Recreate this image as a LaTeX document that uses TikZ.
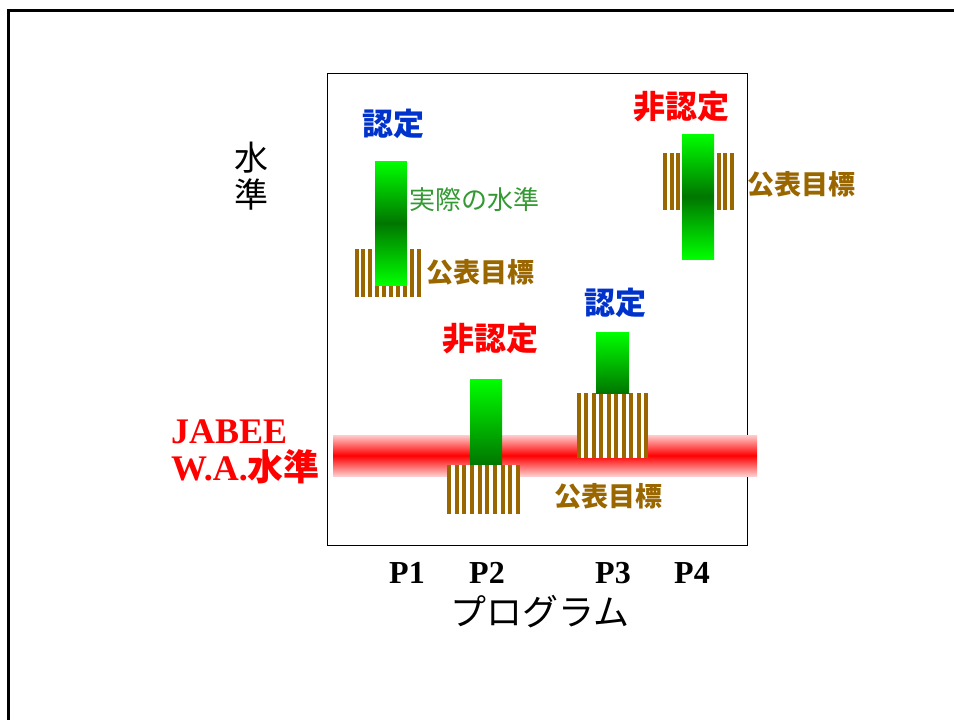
\documentclass[tikz,border=0pt]{standalone}
\usepackage{fontspec}
\setmainfont{Liberation Serif}
\newfontfamily\jp{Noto Sans CJK JP}
\usepackage{tikz}

\definecolor{certblue}{RGB}{0,51,204}
\definecolor{goalbrown}{RGB}{153,102,0}
\definecolor{realgreen}{RGB}{51,153,51}
\definecolor{barbright}{RGB}{0,255,0}
\definecolor{bardark}{RGB}{0,118,0}
\definecolor{bandpale}{RGB}{255,205,205}

% striped block for the published goal: x1, y1, x2, y2, number of stripes
\newcommand{\goalstripes}[5]{%
  \fill[white] (#1,#2) rectangle (#3,#4);
  \pgfmathsetmacro{\stripestep}{(#3-#1-4)/(#5-1)}
  \foreach \k in {1,...,#5}{
    \fill[goalbrown] ({#1+(\k-1)*\stripestep},#2) rectangle ({#1+(\k-1)*\stripestep+4},#4);
  }%
}

\begin{document}
\begin{tikzpicture}[x=1pt, y=-1pt,
  every node/.style={inner sep=0pt},
  certlbl/.style={font=\jp\bfseries\fontsize{31}{37}\selectfont, text=certblue},
  noncertlbl/.style={font=\jp\bfseries\fontsize{32}{38}\selectfont, text=red},
  goallbl/.style={font=\jp\bfseries\fontsize{27}{32}\selectfont, text=goalbrown, anchor=west},
  proglbl/.style={font=\bfseries\fontsize{32}{38}\selectfont, anchor=base},
  jabeelbl/.style={font=\bfseries\fontsize{36}{41}\selectfont, text=red, anchor=base west},
  axislbl/.style={font=\jp\fontsize{34}{40}\selectfont},
  barfull/.style={top color=barbright, bottom color=barbright, middle color=bardark},
  barhalf/.style={top color=barbright, bottom color=bardark}]
	\useasboundingbox (0,0) rectangle (954,720);
	% slide frame and plot box
	\draw[line width=2.5pt] (960,10.5) -- (8.3,10.5) -- (8.3,730);
	\draw[line width=1pt] (327,73) rectangle (747,545);
	% JABEE level band
	\shade[top color=bandpale, bottom color=bandpale, middle color=red] (333,435) rectangle (757,476);
	% P1
	\goalstripes{354.5}{249}{421}{297}{10}
	\shade[barfull] (375,161) rectangle (407,285);
	% P2
	\shade[barhalf] (470,379) rectangle (502,465);
	\goalstripes{447}{465}{520}{514}{10}
	% P3
	\goalstripes{576.5}{393}{648}{458}{10}
	\shade[barhalf] (596,332) rectangle (629,393);
	% P4
	\goalstripes{663}{153}{734}{210}{11}
	\shade[barfull] (682,134) rectangle (714,259);
	% labels
	\node[certlbl] (cert1) at (393,124) {認定};
	\node[noncertlbl] (noncert2) at (490,339) {非認定};
	\node[certlbl] (cert3) at (615,303) {認定};
	\node[noncertlbl] (noncert4) at (681,107) {非認定};
	\node[font=\jp\fontsize{26}{31}\selectfont, text=realgreen, anchor=west] (real1) at (409,200) {実際の水準};
	\node[goallbl] (goal1) at (426,272) {公表目標};
	\node[goallbl] (goal2) at (554,496) {公表目標};
	\node[goallbl] (goal4) at (747,184) {公表目標};
	\node[axislbl] (lvl1) at (251,158) {水};
	\node[axislbl] (lvl2) at (251,195) {準};
	\node[jabeelbl] (jabee) at (171,443) {JABEE};
	\node[jabeelbl] (walevel) at (171,480) {W.A.{\jp 水準}};
	\node[proglbl] (p1) at (407,583) {P1};
	\node[proglbl] (p2) at (487,583) {P2};
	\node[proglbl] (p3) at (613,583) {P3};
	\node[proglbl] (p4) at (692,583) {P4};
	\node[font=\jp\fontsize{36}{41}\selectfont] (prog) at (540,612) {プログラム};
\end{tikzpicture}
\end{document}
